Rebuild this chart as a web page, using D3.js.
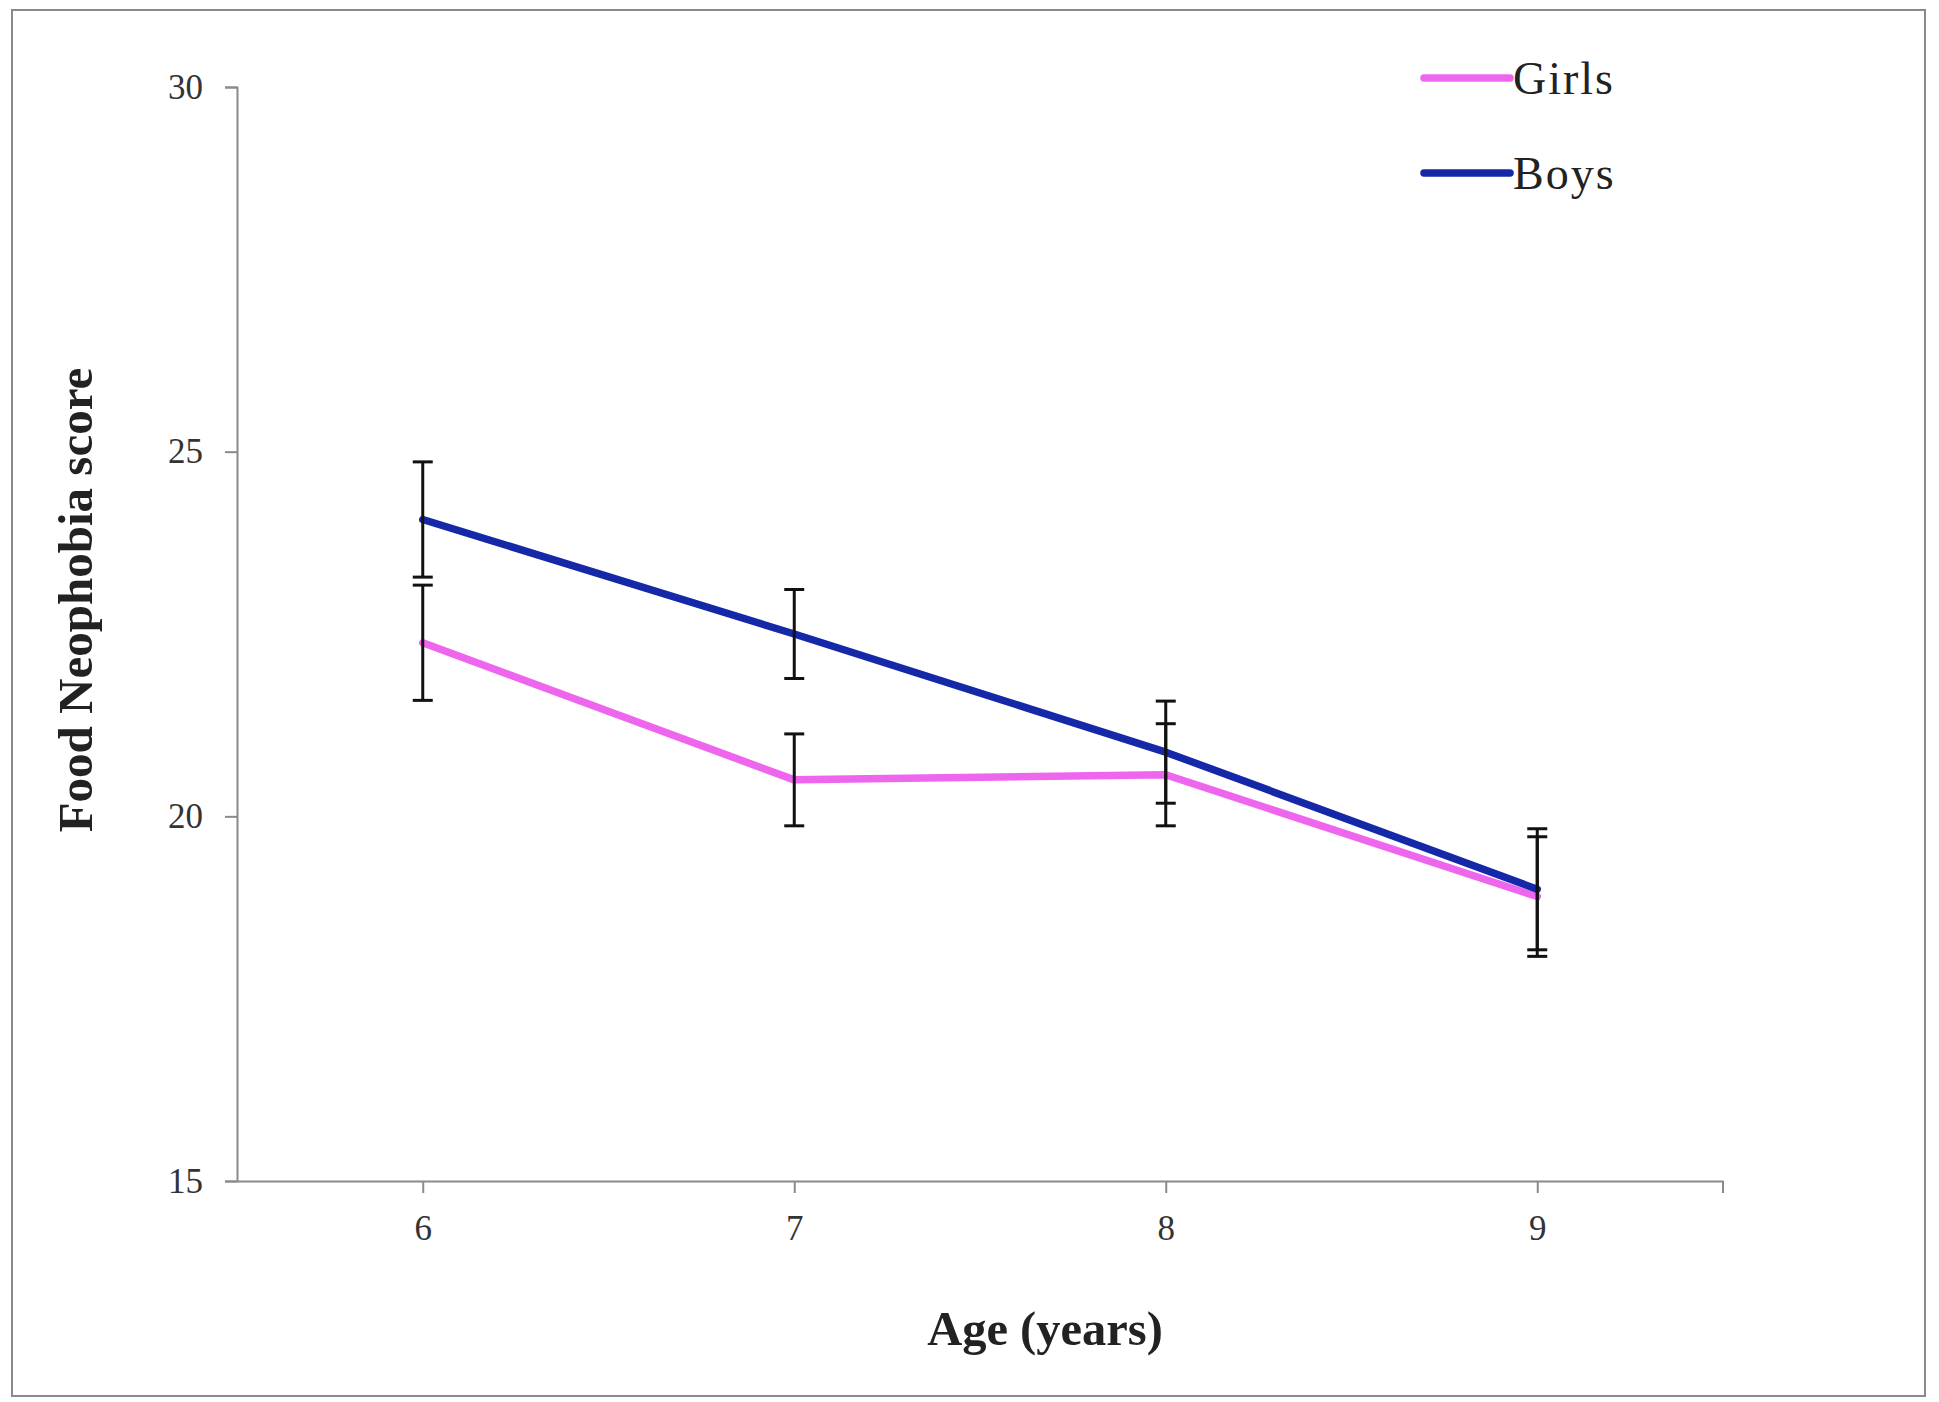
<!DOCTYPE html>
<html>
<head>
<meta charset="utf-8">
<script src="https://cdn.jsdelivr.net/npm/d3@7"></script>
<style>
  html, body { margin: 0; padding: 0; background: #fff; }
  svg { display: block; }
</style>
</head>
<body>
<svg id="chart" width="1939" height="1402"></svg>
<script>
// ---- data ----
const ages = [6, 7, 8, 9];
const girlsMean = [22.38, 20.5, 20.57, 18.9];
const girlsErr  = [0.79, 0.63, 0.70, 0.82];
const boysMean  = [24.07, 22.5, 20.88, 19.0];
const boysErr   = [0.79, 0.61, 0.70, 0.83];
const yTicks = [15, 20, 25, 30];
const seriesNames = ["Girls", "Boys"];

// ---- layout ----
const W = 1939, H = 1402;
const plot = { left: 237, right: 1723, top: 87, bottom: 1181 };
const colors = { Girls: "#ee66ee", Boys: "#1428a8" };
const serif = "'Liberation Serif', 'Times New Roman', serif";

const svg = d3.select("#chart");

// outer frame
svg.append("rect")
  .attr("x", 12).attr("y", 10)
  .attr("width", 1913).attr("height", 1386)
  .attr("fill", "#fff").attr("stroke", "#8a8a8a").attr("stroke-width", 2);

const x = d3.scalePoint().domain(ages).range([plot.left, plot.right]).padding(0.5);
const y = d3.scaleLinear().domain([15, 30]).range([plot.bottom, plot.top]);

// y axis
const yAxis = d3.axisLeft(y).tickValues(yTicks).tickSize(12).tickPadding(22).tickFormat(d3.format("d"));
const gy = svg.append("g").attr("transform", `translate(${plot.left},0)`).call(yAxis);
gy.select(".domain").attr("stroke", "#8a8a8a").attr("stroke-width", 2);
gy.selectAll(".tick line").attr("stroke", "#8a8a8a").attr("stroke-width", 2);
gy.selectAll(".tick text").attr("font-family", serif).attr("font-size", 35).attr("fill", "#333");

// x axis
const xAxis = d3.axisBottom(x).tickSize(12).tickPadding(22).tickSizeOuter(0);
const gx = svg.append("g").attr("transform", `translate(0,${plot.bottom})`).call(xAxis);
gx.select(".domain").attr("stroke", "#8a8a8a").attr("stroke-width", 2);
gx.selectAll(".tick line").attr("stroke", "#8a8a8a").attr("stroke-width", 2);
gx.selectAll(".tick text").attr("font-family", serif).attr("font-size", 35).attr("fill", "#333");
// end tick at right edge of category axis
gx.append("line")
  .attr("x1", x.range()[1]).attr("x2", x.range()[1])
  .attr("y1", 0).attr("y2", 12)
  .attr("stroke", "#8a8a8a").attr("stroke-width", 2);

// axis titles
svg.append("text")
  .attr("x", (x(6) + x(9)) / 2 + 65).attr("y", 1345)
  .attr("text-anchor", "middle")
  .attr("font-family", serif).attr("font-weight", "bold").attr("font-size", 48.5)
  .attr("fill", "#222")
  .text("Age (years)");

svg.append("text")
  .attr("transform", `translate(92,600) rotate(-90)`)
  .attr("text-anchor", "middle")
  .attr("font-family", serif).attr("font-weight", "bold").attr("font-size", 49)
  .attr("fill", "#222")
  .text("Food Neophobia score");

// series
const series = [
  { name: "Girls", mean: girlsMean, err: girlsErr },
  { name: "Boys", mean: boysMean, err: boysErr }
];

const line = d3.line().x((d, i) => x(ages[i])).y(d => y(d));

series.forEach(s => {
  svg.append("path")
    .datum(s.mean)
    .attr("d", line)
    .attr("fill", "none")
    .attr("stroke", colors[s.name])
    .attr("stroke-width", 7.5)
    .attr("stroke-linejoin", "round")
    .attr("stroke-linecap", "round");
});

// error bars
const capW = 10;
series.forEach(s => {
  const g = svg.append("g").attr("stroke", "#111").attr("stroke-width", 3);
  ages.forEach((a, i) => {
    const cx = x(a), hi = y(s.mean[i] + s.err[i]), lo = y(s.mean[i] - s.err[i]);
    g.append("line").attr("x1", cx).attr("x2", cx).attr("y1", hi).attr("y2", lo);
    g.append("line").attr("x1", cx - capW).attr("x2", cx + capW).attr("y1", hi).attr("y2", hi);
    g.append("line").attr("x1", cx - capW).attr("x2", cx + capW).attr("y1", lo).attr("y2", lo);
  });
});

// legend
const legend = svg.append("g");
seriesNames.forEach((name, i) => {
  const ly = 78 + i * 95;
  legend.append("line")
    .attr("x1", 1424).attr("x2", 1510)
    .attr("y1", ly).attr("y2", ly)
    .attr("stroke", colors[name]).attr("stroke-width", 7.5)
    .attr("stroke-linecap", "round");
  legend.append("text")
    .attr("x", 1513).attr("y", ly + 16)
    .attr("font-family", serif).attr("font-size", 46)
    .attr("letter-spacing", 2)
    .attr("fill", "#222")
    .text(name);
});
</script>
</body>
</html>
